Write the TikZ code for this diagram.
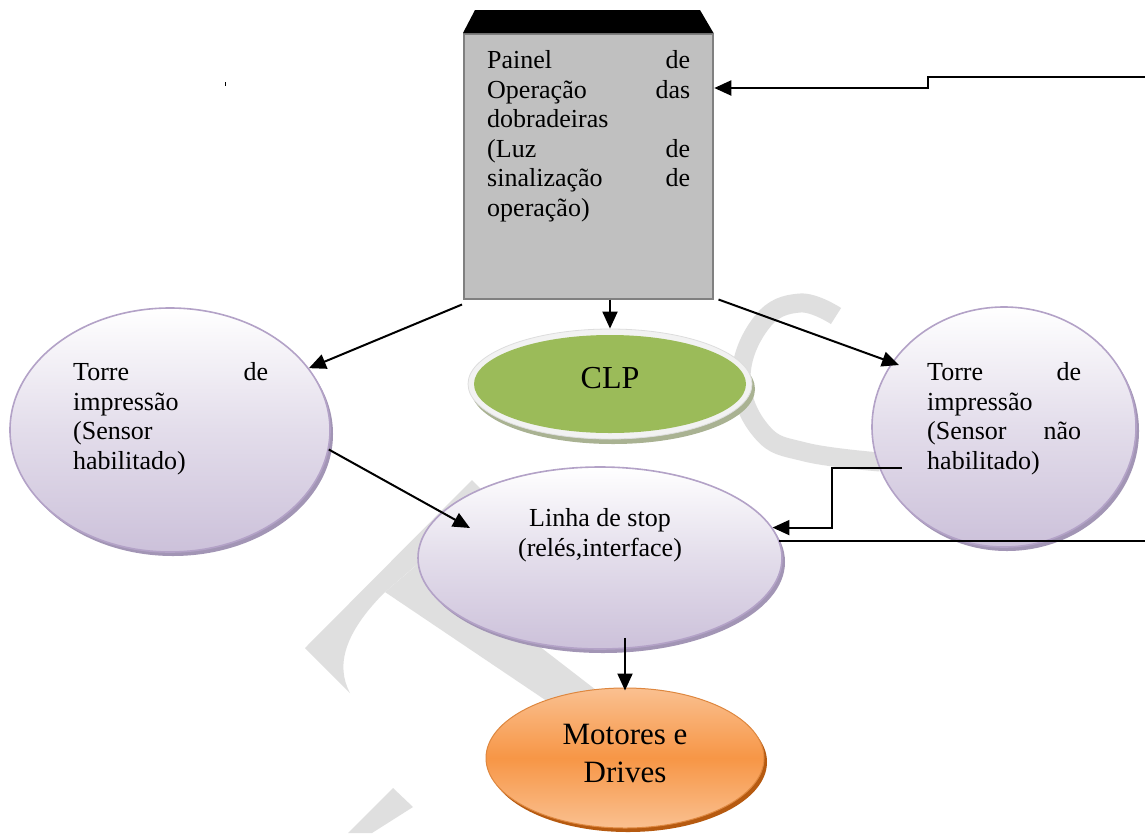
\documentclass[tikz,border=0pt]{standalone}
\usepackage{fontspec}
\setmainfont{Liberation Serif}
\usetikzlibrary{shapes.geometric,arrows.meta,calc,shadows}
\definecolor{panelgray}{HTML}{C0C0C0}
\definecolor{panelborder}{HTML}{808080}
\definecolor{lav}{HTML}{CCC1DA}
\definecolor{lavborder}{HTML}{B3A2C7}
\definecolor{lavshadow}{HTML}{A295B5}
\definecolor{clpgreen}{HTML}{9BBB59}
\definecolor{ringgray}{HTML}{F2F2F2}
\definecolor{ringedge}{HTML}{DDDDDD}
\definecolor{clpshadow}{HTML}{A9B292}
\definecolor{orangemid}{HTML}{F79646}
\definecolor{orangelight}{HTML}{FAC090}
\definecolor{orangeshadow}{HTML}{B65A10}
\definecolor{wm}{HTML}{DFDFDF}
\begin{document}
\begin{tikzpicture}[x=1pt,y=-1pt,
  arr/.style={-{Triangle[length=17pt,width=15pt]}, line width=2pt, line join=miter},
  plain/.style={line width=2pt},
  txt/.style={font=\fontsize{26}{29.5}\selectfont, inner sep=0pt, text=black},
  bigtxt/.style={font=\fontsize{31}{38}\selectfont, inner sep=0pt, text=black},
  lavell/.style={ellipse, draw=lavborder, line width=1.6pt, inner sep=0pt,
     top color=white, bottom color=lav, middle color=lav!55!white,
     drop shadow={shadow xshift=3pt, shadow yshift=-4pt, fill=lavshadow, opacity=1}},
  orell/.style={ellipse, draw=orangemid!90!black, line width=1pt, inner sep=0pt,
     top color=orangelight, bottom color=orangelight, middle color=orangemid,
     drop shadow={shadow xshift=3pt, shadow yshift=-4pt, fill=orangeshadow, opacity=1}},
  wmark/.style={fill=wm, draw=none}
]
\useasboundingbox (0,0) rectangle (1145,833);
\fill[white] (0,0) rectangle (1145,833);

% watermark
\fill[wmark] (305,648) -- (472,480) -- (492,500) -- (385,592)
   .. controls (345,632) and (335,665) .. (350,693) -- cycle;
\fill[wmark] (385,592) -- (575,720) -- (596,690) -- (425,558) -- cycle;
\fill[wmark] (348,833) -- (393,788) -- (413,807) -- (372,833) -- cycle;
\draw[wm, line width=19pt] plot[smooth, tension=0.7] coordinates
   {(836,316) (800,303) (762,322) (741,378) (762,432) (805,452) (880,462)};

% stray mark
\fill[black] (224.5,82) rectangle (226,86);

% panel
\node[draw=panelborder, fill=panelgray, line width=1.5pt, inner sep=0pt,
      minimum width=249pt, minimum height=265pt, anchor=north west] (panel) at (463,33) {};
\fill[black] (panel.north west) -- (475,10) -- (700,10) -- (panel.north east) -- cycle;
\node[txt, anchor=north west, text width=203pt, align=left] (paneltxt) at (487,50.5)
  {Painel\hfill de\\Operação\hfill das\\dobradeiras\\(Luz\hfill de\\sinalização\hfill de\\operação)};

% CLP
\fill[clpshadow] (613,389) ellipse [x radius=142, y radius=55];
\node[ellipse, fill=ringgray, draw=ringedge, line width=0.8pt, inner sep=0pt,
      minimum width=284pt, minimum height=110pt] (clpring) at (610,384) {};
\node[ellipse, fill=clpgreen, inner sep=0pt, minimum width=272pt, minimum height=98pt] (clp) at (610,384) {};
\node[font=\fontsize{32}{38}\selectfont, inner sep=0pt, anchor=base] (clptxt) at (610,388) {CLP};

% Torre left
\node[lavell, minimum width=320pt, minimum height=244pt] (torreL) at (170,430) {};
\node[txt, anchor=north west, text width=195pt, align=left] (torreLtxt) at (73,362.5)
  {Torre\hfill de\\impressão\\(Sensor\\habilitado)};

% Torre right
\node[lavell, minimum width=264pt, minimum height=240pt] (torreR) at (1004,427) {};
\node[txt, anchor=north west, text width=154pt, align=left] (torreRtxt) at (927,362.5)
  {Torre\hfill de\\impressão\\(Sensor\hfill não\\habilitado)};

% Linha de stop
\node[lavell, minimum width=364pt, minimum height=182pt] (linha) at (600,558) {};
\node[txt, anchor=north, align=center] (linhatxt) at (600,508.5)
  {Linha de stop\\(relés,interface)};

% Motores
\node[orell, minimum width=278pt, minimum height=140pt] (motores) at (625,758) {};
\node[bigtxt, anchor=north, align=center] (motorestxt) at (625,724)
  {Motores e\\Drives};

% connectors
\coordinate (rin) at (1145,77);
\coordinate (rout) at (1145,541);
\coordinate (t4) at (899,365);
\coordinate (t5) at (470,528);
\coordinate (s6) at (902,468);

\draw[arr] (rin) -- (928,77) -- (928,88) -- ($(panel.north east)+(0.8,55)$);
\draw[arr] (panel.south -| clp.north) -- (clpring.north);
\draw[arr] ($(panel.south west)+(-1,5)$) -- (torreL.24);
\draw[arr] ($(panel.south east)+(5,0)$) -- (t4);
\draw[arr] (torreL.-7) -- (t5);
\draw[arr] (s6) -- (832,468) |- (linha.10);
\draw[plain] (linha.6 |- rout) -- (rout);
\draw[arr] ($(linha.south)+(25,-12)$) -- ($(motores.north)+(0,3)$);
\end{tikzpicture}
\end{document}
